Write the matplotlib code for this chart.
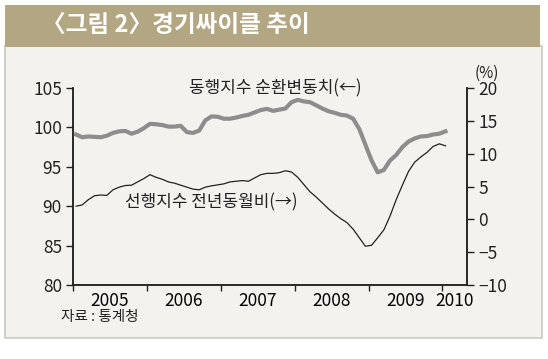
import matplotlib
matplotlib.use('Agg')
import matplotlib.pyplot as plt
from matplotlib.patches import Rectangle
import numpy as np

plt.rcParams['font.family'] = ['Noto Sans CJK KR', 'DejaVu Sans']
plt.rcParams['font.weight'] = 'light'

# monthly data, Jan 2005 - Jan 2010
coincident = [99.1, 98.75, 98.85, 98.8, 98.75, 98.95, 99.3, 99.5, 99.55, 99.2,
              99.45, 99.9, 100.45, 100.4, 100.3, 100.1, 100.1, 100.2, 99.4, 99.3,
              99.6, 100.9, 101.4, 101.35, 101.1, 101.1, 101.25, 101.45, 101.6, 101.9,
              102.2, 102.35, 102.1, 102.25, 102.4, 103.2, 103.5, 103.3, 103.2, 102.8,
              102.4, 102.05, 101.85, 101.6, 101.5, 101.1, 99.8, 97.8, 95.8, 94.3,
              94.6, 95.8, 96.5, 97.5, 98.2, 98.6, 98.85, 98.9, 99.1, 99.2, 99.5]
leading_yoy = [2.0, 2.2, 3.0, 3.6, 3.7, 3.65, 4.5, 4.9, 5.15, 5.2,
               5.7, 6.2, 6.8, 6.4, 6.1, 5.7, 5.5, 5.2, 4.9, 4.6,
               4.5, 4.9, 5.1, 5.25, 5.4, 5.7, 5.8, 5.9, 5.8, 6.3,
               6.8, 7.0, 7.0, 7.1, 7.4, 7.2, 6.4, 5.3, 4.2, 3.4,
               2.5, 1.6, 0.8, 0.1, -0.5, -1.5, -2.8, -4.1, -3.95, -2.8,
               -1.6, 0.5, 3.0, 5.2, 7.3, 8.7, 9.5, 10.2, 11.1, 11.5, 11.2]
years = ['2005', '2006', '2007', '2008', '2009', '2010']
year_pos = [6, 18, 30, 42, 54, 62]

months = np.arange(len(coincident)) + 0.5

W, H = 548, 359
fig = plt.figure(figsize=(W / 100, H / 100), dpi=100)

# panel background and title bar
fig.patches.append(Rectangle((5 / W, 1 - 338 / H), 537 / W, 292 / H, transform=fig.transFigure,
                             facecolor='#f3f2ee', edgecolor='#c9c9c1', lw=1.2, zorder=-2))
fig.patches.append(Rectangle((5 / W, 1 - 47 / H), 535 / W, 42 / H, transform=fig.transFigure,
                             facecolor='#b3a683', edgecolor='none', zorder=-1))
fig.text(42 / W, 1 - 25 / H, '〈그림 2〉경기싸이클 추이', color='white', fontsize=17,
         fontweight='bold', ha='left', va='center')

ax = fig.add_axes([73 / W, 1 - 285 / H, 394 / W, 197 / H])
ax.set_facecolor('none')
ax2 = ax.twinx()

ax.plot(months, coincident, color='#8d8d8d', lw=3, solid_joinstyle='round')
ax2.plot(months, leading_yoy, color='#222222', lw=0.9)

ax.set_xlim(0, 64)
ax.set_ylim(80, 105)
ax2.set_ylim(-10, 20)
ax.set_yticks(range(80, 106, 5))
ax2.set_yticks(range(-10, 21, 5))

ax.set_xticks([0, 12, 24, 36, 48, 60])
ax.set_xticklabels([])
ax.set_xticks(year_pos, minor=True)
ax.set_xticklabels(years, minor=True)
ax.tick_params(axis='x', which='minor', length=0, pad=5)
ax.tick_params(axis='x', which='major', length=4, width=1, direction='out')

for a in (ax, ax2):
    a.spines['top'].set_visible(False)
    for s in a.spines.values():
        s.set_linewidth(1.1)
        s.set_color('#222222')
    a.tick_params(axis='y', length=5, width=1, pad=3, labelsize=12.5, colors='#222222')
    a.tick_params(axis='x', labelsize=12.5, colors='#222222')
ax.tick_params(axis='x', which='minor', labelsize=12.5)

ax.text(275 / W, 1 - 88 / H, '동행지수 순환변동치(←)', transform=fig.transFigure,
        fontsize=12.2, ha='center', va='center', color='#222222')
ax.text(211 / W, 1 - 202 / H, '선행지수 전년동월비(→)', transform=fig.transFigure,
        fontsize=12.2, ha='center', va='center', color='#222222')
fig.text(487 / W, 1 - 73 / H, '(%)', fontsize=11, ha='center', va='center', color='#222222')
fig.text(61 / W, 1 - 317 / H, '자료 : 통계청', fontsize=10.5, ha='left', va='center', color='#222222')

fig.savefig('out.png', dpi=100)
